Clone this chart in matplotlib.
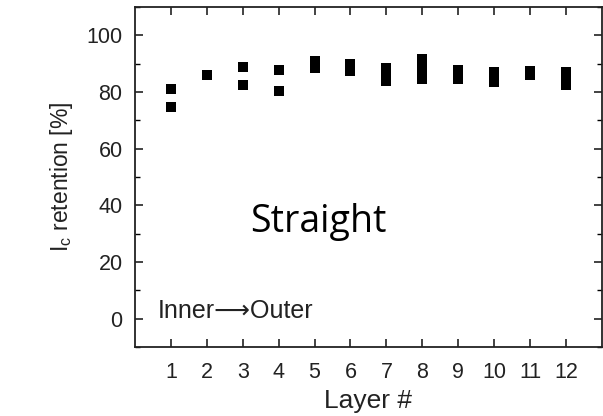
import matplotlib
matplotlib.use("Agg")
import matplotlib.pyplot as plt
from matplotlib.ticker import MultipleLocator

layers = list(range(1, 13))
retention = [
    [80.9, 74.6],
    [86.1],
    [88.9, 82.4],
    [87.7, 80.5],
    [90.8, 89.6, 88.5],
    [90.0, 88.6, 87.3],
    [88.5, 86.5, 84.0],
    [91.5, 89.5, 87.0, 84.7],
    [87.9, 86.3, 84.7],
    [87.0, 85.3, 83.6],
    [87.5, 86.1],
    [87.0, 84.8, 82.5],
]
xticks = list(range(1, 13))
yticks = [0, 20, 40, 60, 80, 100]

plt.rcParams['font.family'] = ['Liberation Sans', 'DejaVu Sans']
fig = plt.figure(figsize=(6.03, 4.16), dpi=100)
ax = fig.add_axes([0.224, 0.166, 0.774, 0.817])

xs, ys = [], []
for lay, vals in zip(layers, retention):
    for v in vals:
        xs.append(lay)
        ys.append(v)
ax.scatter(xs, ys, marker='s', s=52, color='black', edgecolors='none', zorder=3)

ax.set_xlim(0, 13)
ax.set_ylim(-10, 110)
ax.set_xticks(xticks)
ax.set_yticks(yticks)
ax.yaxis.set_minor_locator(MultipleLocator(10))
ax.tick_params(axis='both', which='major', direction='in', length=6, width=1.2,
               top=True, right=True, labelsize=15.5, colors='#222222')
ax.tick_params(axis='y', which='major', pad=9)
ax.tick_params(axis='x', which='major', pad=11)
ax.tick_params(axis='y', which='minor', direction='in', length=3.5, width=1.0, right=True)
for sp in ax.spines.values():
    sp.set_linewidth(1.3)
    sp.set_color('#222222')

ax.set_xlabel('Layer #', fontsize=19, color='#222222', labelpad=4)
ax.set_ylabel(r'I$_\mathregular{c}$ retention [%]', fontsize=16.5, color='#222222', labelpad=8)

ax.text(0.246, 0.368, 'Straight', transform=ax.transAxes, fontsize=27,
        family=['Open Sans', 'DejaVu Sans'], color='black', ha='left', va='center')
ax.text(0.048, 0.106, 'Inner\u27f6Outer', transform=ax.transAxes, fontsize=18,
        color='#222222', ha='left', va='center')

fig.savefig('out.png', dpi=100)
